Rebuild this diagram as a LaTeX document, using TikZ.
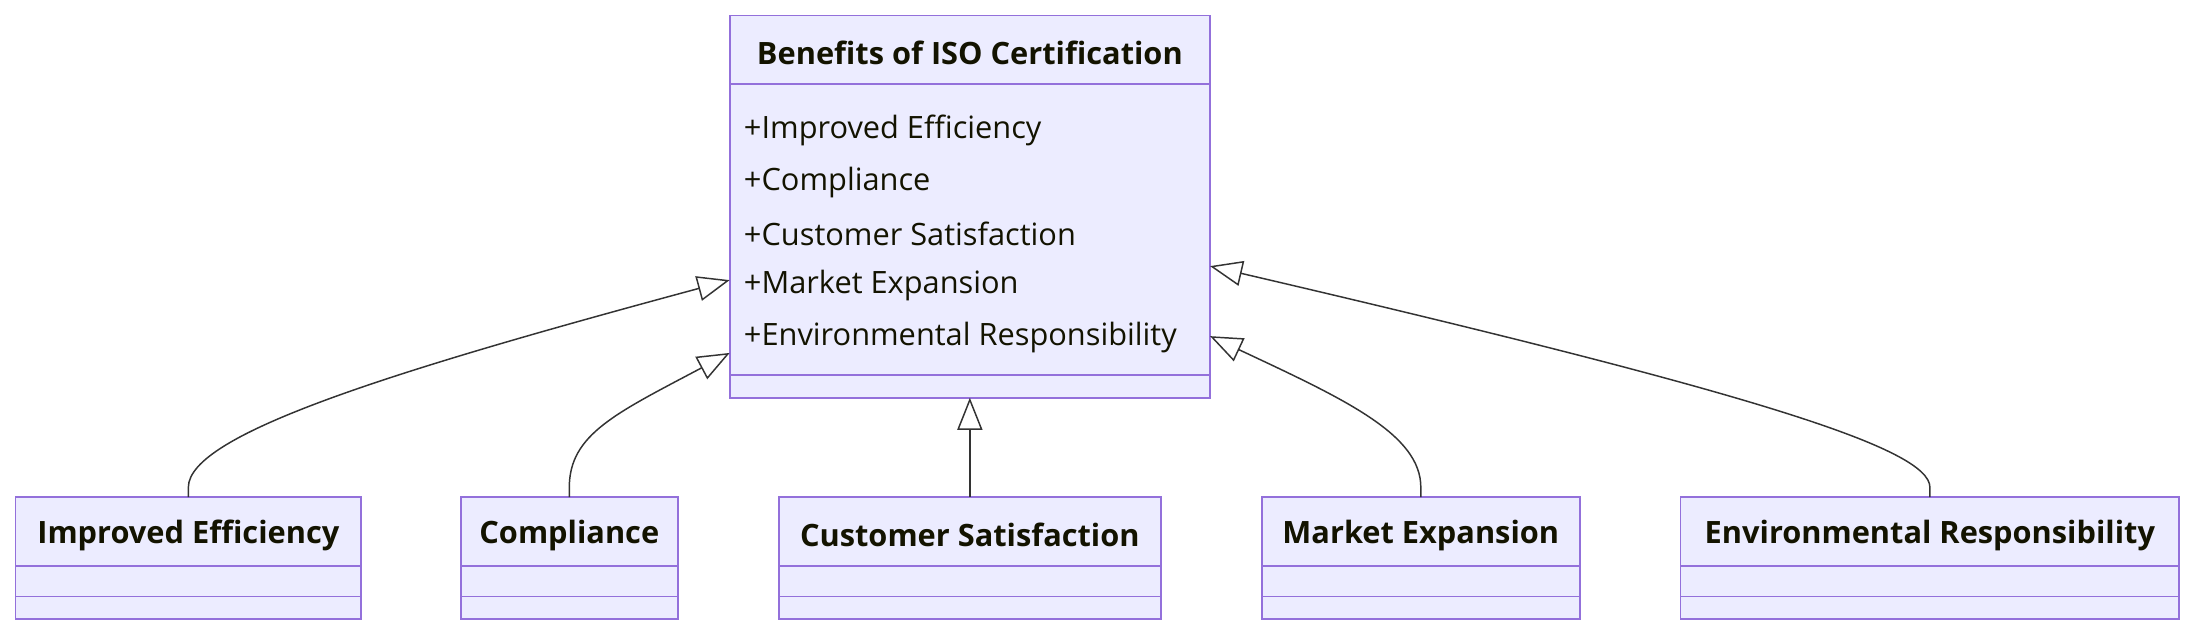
\documentclass[tikz,border=0pt]{standalone}
\usepackage{fontspec}
\setmainfont{Open Sans}
\usetikzlibrary{arrows.meta}
\definecolor{bfill}{HTML}{ECECFF}
\definecolor{bline}{HTML}{9370DB}
\definecolor{tcol}{HTML}{131300}
\begin{document}
\begin{tikzpicture}[x=0.02cm,y=-0.02cm,
  box/.style={draw=bline,fill=bfill,line width=0.7pt},
  hd/.style={font=\fontsize{12.5pt}{14pt}\selectfont\bfseries,text=tcol},
  attr/.style={font=\fontsize{12.5pt}{14pt}\selectfont,text=tcol,anchor=west},
  inh/.style={draw=black!80,line width=0.6pt,-{Triangle[open,length=0.46cm,width=0.36cm,fill=white]}}]
\useasboundingbox (0,0) rectangle (1568,454);
% main box
\draw[box] (521,11) rectangle (864,284);
\draw[bline,line width=0.7pt] (521,60) -- (864,60) (521,268) -- (864,268);
\node[hd] (main) at (692.5,38) {Benefits of ISO Certification};
\node[attr] (a1) at (525,93) {+Improved Efficiency};
\node[attr] (a2) at (525,130) {+Compliance};
\node[attr] (a3) at (525,167) {+Customer Satisfaction};
\node[attr] (a4) at (525,204) {+Market Expansion};
\node[attr] (a5) at (525,241) {+Environmental Responsibility};
\coordinate (m1) at (521,200);
\coordinate (m2) at (521,252);
\coordinate (m3) at (692.5,284);
\coordinate (m4) at (864,240);
\coordinate (m5) at (864,190);
% bottom boxes
\foreach \l/\r/\n/\t in {11/258/b1/Improved Efficiency,329/484/b2/Compliance,556/829/b3/Customer Satisfaction,901/1128/b4/Market Expansion,1200/1556/b5/Environmental Responsibility}{
  \draw[box] (\l,355) rectangle (\r,442);
  \draw[bline,line width=0.7pt] (\l,404) -- (\r,404) (\l,426) -- (\r,426);
  \node[hd] (\n) at ({(\l+\r)/2},382) {\t};
  \coordinate (\n t) at ({(\l+\r)/2},355);
}
\draw[inh] (b1t) -- (134.5,348) .. controls (134.5,310) and (280,265) .. (m1);
\draw[inh] (b2t) -- (406.5,348) .. controls (406.5,310) and (440,295) .. (m2);
\draw[inh] (b3t) -- (m3);
\draw[inh] (b4t) -- (1014.5,348) .. controls (1014.5,310) and (960,285) .. (m4);
\draw[inh] (b5t) -- (1378,348) .. controls (1378,320) and (1250,280) .. (m5);
\end{tikzpicture}
\end{document}
